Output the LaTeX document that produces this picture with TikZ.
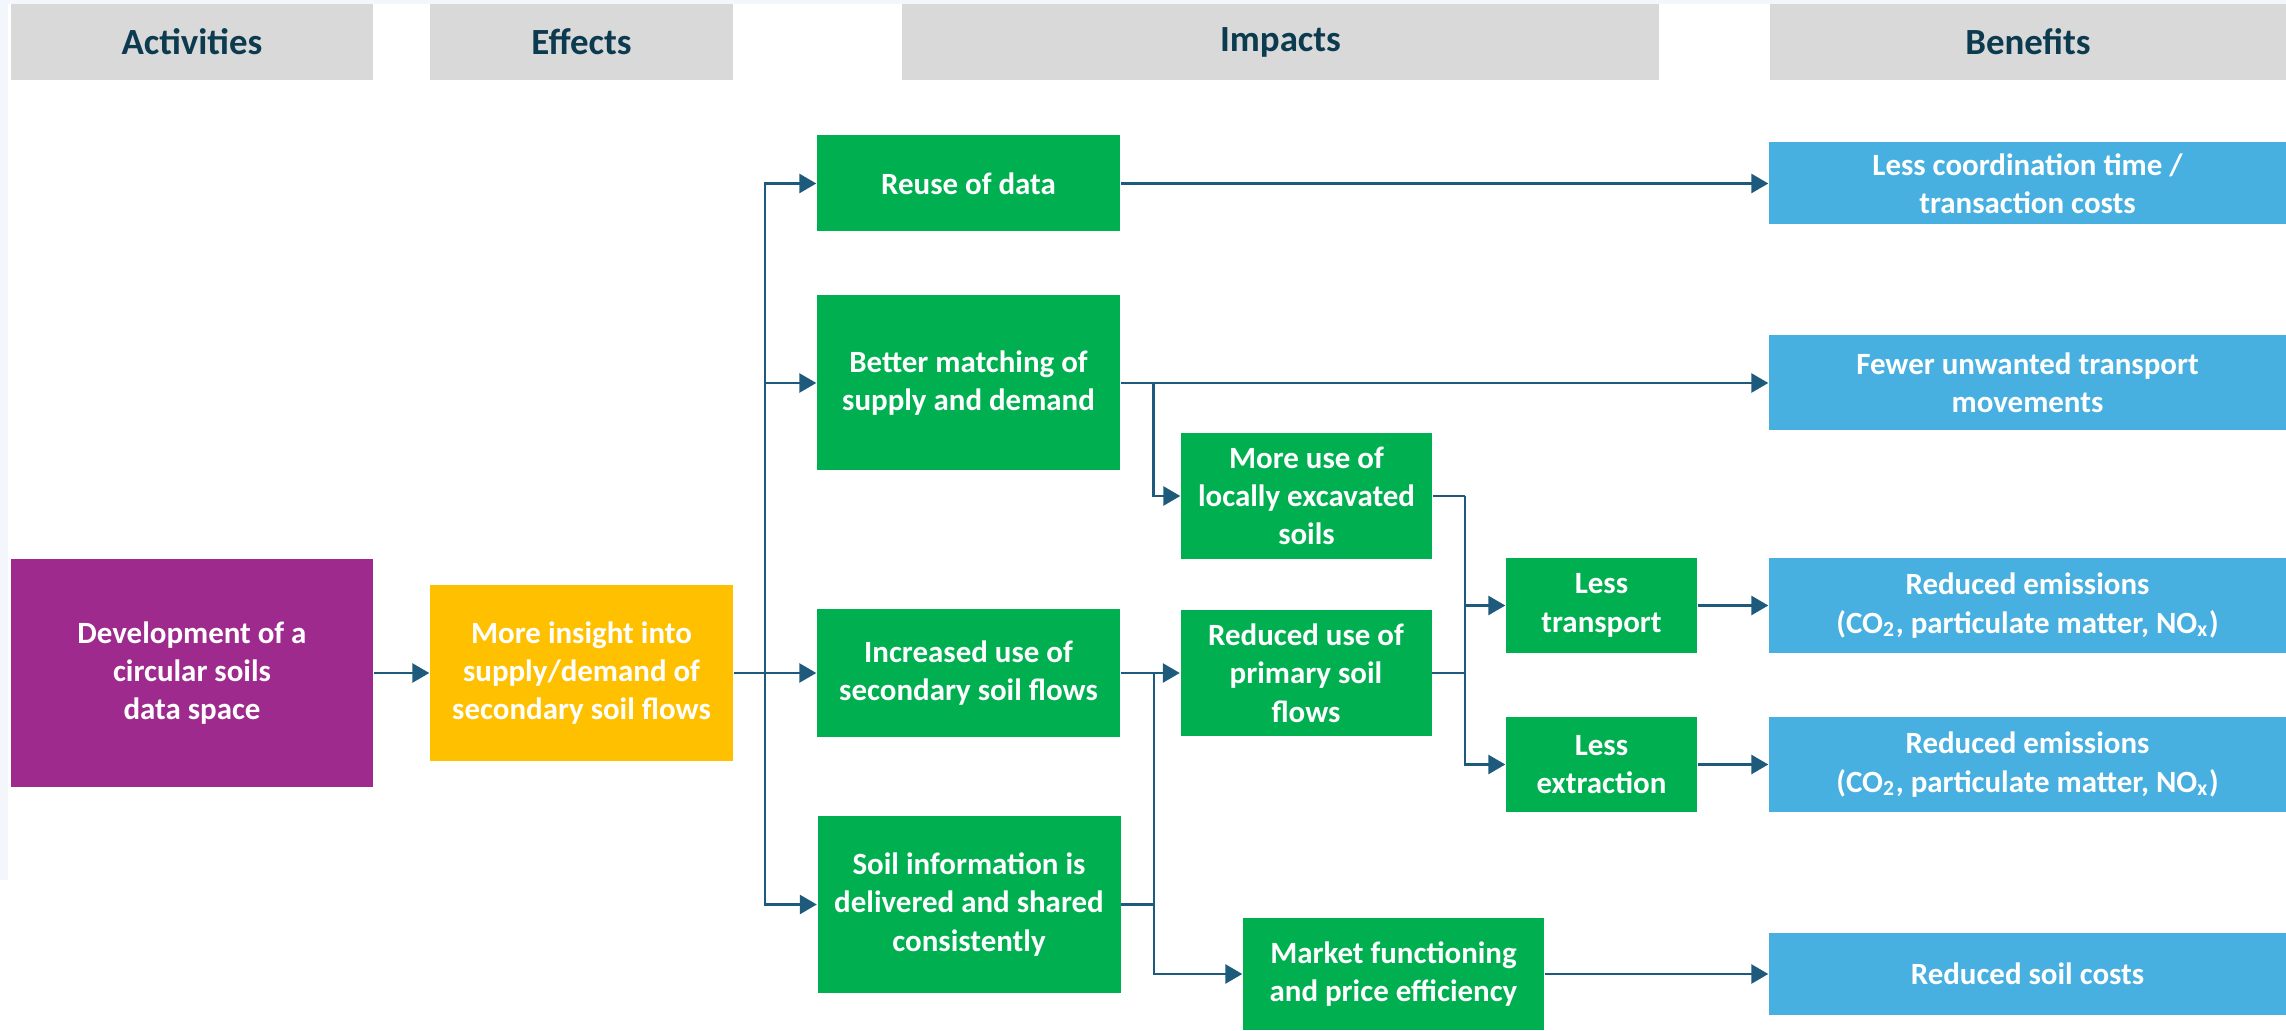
\documentclass[tikz,border=0pt]{standalone}
\usepackage{fontspec}
\setmainfont{Carlito}
\usetikzlibrary{arrows.meta}

\definecolor{headgray}{HTML}{D9D9D9}
\definecolor{headtext}{HTML}{0C3A4E}
\definecolor{actpurple}{HTML}{9E2A8E}
\definecolor{effyellow}{HTML}{FFC000}
\definecolor{impgreen}{HTML}{00B050}
\definecolor{benblue}{HTML}{47B0E1}
\definecolor{linkblue}{HTML}{1D5A7C}
\definecolor{palebg}{HTML}{F3F7FC}

\begin{document}
\begin{tikzpicture}[y=-1cm,
  every node/.style={font=\fontsize{8.8}{10.9}\selectfont\bfseries, text=white, align=center, inner sep=0pt},
  sz/.style 2 args={minimum width=#1cm, minimum height=#2cm},
  head/.style={fill=headgray, text=headtext, font=\fontsize{10.5}{12.5}\selectfont\bfseries},
  impact/.style={fill=impgreen},
  benefit/.style={fill=benblue},
  link/.style={draw=linkblue, line width=0.8pt},
  arr/.style={link, -{Triangle[length=0.17cm,width=0.19cm]}}]
\useasboundingbox (0,0) rectangle (22.86,10.31);
\fill[palebg] (0,0) rectangle (0.08,8.8);
\fill[palebg] (0,0) rectangle (22.86,0.04);

\node[head, sz={3.62}{0.76}] (hact) at (1.92,0.42) {Activities};
\node[head, sz={3.03}{0.76}] (heff) at (5.815,0.42) {Effects};
\node[head, sz={7.57}{0.76}] (himp) at (12.805,0.42) {Impacts};
\node[head, sz={5.16}{0.76}] (hben) at (20.28,0.42) {Benefits};

\node[fill=actpurple, sz={3.62}{2.27}] (act) at (1.92,6.73) {Development of a\\circular soils\\data space};
\node[fill=effyellow, sz={3.03}{1.76}] (eff) at (5.815,6.73) {More insight into\\supply/demand of\\secondary soil flows};

\node[impact, sz={3.03}{0.96}] (reuse) at (9.685,1.835) {Reuse of data};
\node[impact, sz={3.03}{1.75}] (match) at (9.685,3.83) {Better matching of\\supply and demand};
\node[impact, sz={3.03}{1.27}] (incr) at (9.685,6.73) {Increased use of\\secondary soil flows};
\node[impact, sz={3.03}{1.77}] (info) at (9.69,9.045) {Soil information is\\delivered and shared\\consistently};
\node[impact, sz={2.51}{1.26}] (local) at (13.065,4.96) {More use of\\locally excavated\\soils};
\node[impact, sz={2.51}{1.26}] (primary) at (13.06,6.73) {Reduced use of\\primary soil\\flows};
\node[impact, sz={3.01}{1.12}] (market) at (13.935,9.74) {Market functioning\\and price efficiency};
\node[impact, sz={1.91}{0.95}] (transp) at (16.015,6.055) {Less\\transport};
\node[impact, sz={1.91}{0.95}] (extr) at (16.015,7.645) {Less\\extraction};

\node[benefit, sz={5.17}{0.82}] (coord) at (20.275,1.835) {Less coordination time /\\transaction costs};
\node[benefit, sz={5.17}{0.95}] (fewer) at (20.275,3.83) {Fewer unwanted transport\\movements};
\node[benefit, sz={5.17}{0.95}] (emis1) at (20.275,6.055) {Reduced emissions\\(CO\textsubscript{2}, particulate matter, NO\textsubscript{x})};
\node[benefit, sz={5.17}{0.95}] (emis2) at (20.275,7.645) {Reduced emissions\\(CO\textsubscript{2}, particulate matter, NO\textsubscript{x})};
\node[benefit, sz={5.17}{0.82}] (costs) at (20.275,9.74) {Reduced soil costs};

\draw[arr] (act) -- (eff);
\coordinate (bus) at (7.65,6.73);
\draw[link] (eff) -- (bus);
\foreach \n in {reuse,match,incr,info}
  \draw[arr] (bus) |- (\n);

\draw[arr] (reuse) -- (coord);
\draw[arr] (match) -- (fewer);
\draw[arr] (match.east) -- ++(0.33,0) |- (local);
\draw[arr] (incr) -- (primary);

\coordinate (mbus) at (11.54,6.73);
\draw[link] (info.east) -- (info.east -| mbus);
\draw[arr] (mbus) |- (market);
\draw[arr] (market) -- (costs);

\coordinate (rbus) at (14.65,4.96);
\draw[link] (local) -- (rbus);
\draw[link] (primary) -- (primary -| rbus);
\draw[arr] (rbus) |- (transp);
\draw[arr] (rbus) |- (extr);
\draw[arr] (transp) -- (emis1);
\draw[arr] (extr) -- (emis2);
\end{tikzpicture}
\end{document}
